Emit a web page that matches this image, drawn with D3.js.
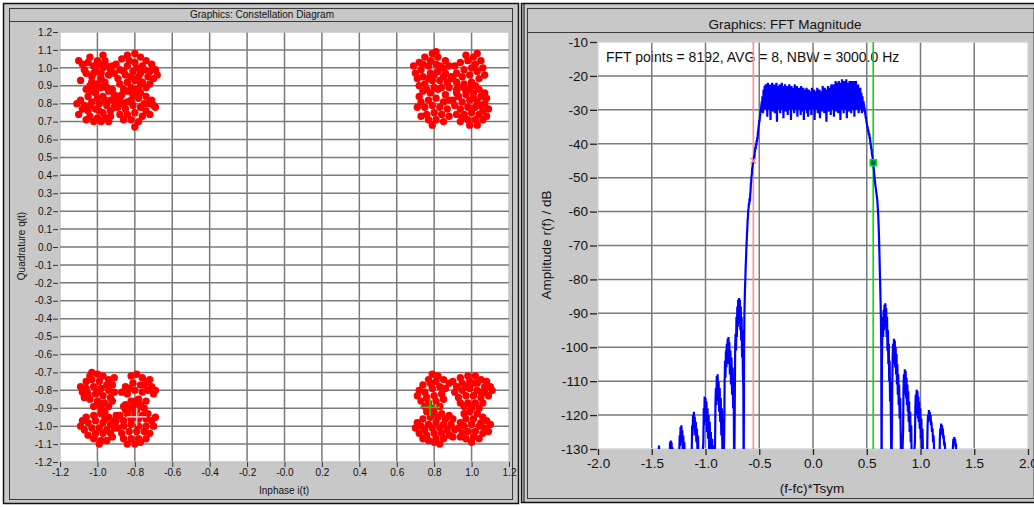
<!DOCTYPE html>
<html>
<head>
<meta charset="utf-8">
<script src="https://cdn.jsdelivr.net/npm/d3@7"></script>
<style>
  body { margin: 0; background: #fff; }
  svg { display: block; font-family: "Liberation Sans", Arial, sans-serif; }
</style>
</head>
<body>
<svg id="chart" width="1034" height="507"></svg>
<script>
// ---- constellation data (I, Q in hundredths) ----
const constXTicks = [-1.2, -1.0, -0.8, -0.6, -0.4, -0.2, 0, 0.2, 0.4, 0.6, 0.8, 1.0, 1.2];
const constXLabels = ["-1.2", "-1.0", "-0.8", "-0.6", "-0.4", "-0.2", "-0.0", "0.2", "0.4", "0.6", "0.8", "1.0", "1.2"];
const constYTicks = [1.2, 1.1, 1.0, 0.9, 0.8, 0.7, 0.6, 0.5, 0.4, 0.3, 0.2, 0.1, 0, -0.1, -0.2, -0.3, -0.4, -0.5, -0.6, -0.7, -0.8, -0.9, -1.0, -1.1, -1.2];
const constYLabels = ["1.2", "1.1", "1.0", "0.9", "0.8", "0.7", "0.6", "0.5", "0.4", "0.3", "0.2", "0.1", "0.0", "-0.1", "-0.2", "-0.3", "-0.4", "-0.5", "-0.6", "-0.7", "-0.8", "-0.9", "-1.0", "-1.1", "-1.2"];

const clusterTL = [
  [-108,102],[-104,106],[-100,104],[-97,107],[-95,101],[-101,99],[-106,97],[-103,95],[-98,97],[-94,96],[-96,92],[-100,91],[-104,90],[-109,93],[-107,99],[-99,102],[-102,101],[-96,104],[-93,99],[-98,94],[-102,97],[-105,103],[-110,104],[-95,89],[-101,87],[-97,100],[-103,92],
  [-90,102],[-87,105],[-84,107],[-80,108],[-77,106],[-74,104],[-71,102],[-69,99],[-72,98],[-76,101],[-80,103],[-84,101],[-88,99],[-91,97],[-89,94],[-85,96],[-81,98],[-77,97],[-73,95],[-70,94],[-72,91],[-76,92],[-80,93],[-84,92],[-88,91],[-86,88],[-82,89],[-78,88],[-74,89],[-79,100],[-83,104],[-75,99],[-86,98],[-82,95],[-78,95],[-92,101],[-68,96],[-81,85],[-77,91],
  [-106,88],[-102,90],[-98,89],[-94,87],[-91,85],[-93,82],[-97,84],[-101,86],[-105,84],[-109,82],[-111,80],[-107,79],[-103,81],[-99,80],[-95,79],[-91,78],[-90,81],[-93,76],[-97,75],[-101,77],[-105,76],[-108,77],[-104,73],[-100,72],[-96,72],[-93,73],[-98,70],[-102,70],[-106,71],[-110,74],[-96,82],[-100,83],[-104,79],[-92,88],[-88,83],[-103,87],[-99,76],[-94,70],
  [-87,85],[-84,87],[-80,88],[-77,86],[-74,84],[-71,82],[-70,79],[-73,80],[-78,83],[-82,82],[-86,80],[-89,78],[-85,77],[-81,79],[-77,78],[-74,76],[-72,74],[-76,73],[-80,75],[-84,74],[-88,74],[-82,71],[-78,70],[-88,82],[-79,86],[-75,80],[-84,81],[-86,71],[-80,67],[-69,78],[-90,84]
];
const clusterTR = [
  [72,103],[75,106],[79,108],[82,106],[86,104],[88,101],[85,100],[81,102],[77,101],[73,99],[70,97],[71,94],[74,95],[78,97],[82,98],[86,97],[89,95],[87,92],[83,93],[79,93],[75,91],[72,90],[76,88],[80,89],[84,89],[88,89],[78,104],[83,101],[74,102],[80,96],[85,95],[69,101],[77,94],[81,109],
  [91,101],[94,103],[98,104],[101,106],[103,108],[100,100],[96,99],[92,97],[95,95],[99,96],[103,98],[106,100],[107,96],[104,94],[100,92],[96,91],[92,92],[102,102],[97,107],[105,104],[93,89],[98,88],[102,90],[90,94],
  [74,87],[78,86],[82,88],[86,85],[88,82],[85,81],[81,83],[77,82],[73,81],[71,78],[75,78],[79,79],[83,78],[87,77],[84,74],[80,75],[76,74],[73,73],[77,71],[81,71],[85,70],[79,68],[88,73],[72,84],
  [92,88],[96,89],[100,90],[104,88],[107,86],[108,83],[105,84],[101,86],[97,85],[93,84],[90,82],[91,79],[95,81],[99,82],[103,81],[107,80],[109,77],[106,76],[102,78],[98,78],[94,77],[92,74],[96,74],[100,75],[104,74],[108,73],[106,71],[102,71],[98,71],[94,70],[99,68],[103,68],[97,87],[101,83],[95,72],[105,79],[92,86]
];
const clusterBL = [
  [-103,-70],[-100,-71],[-97,-72],[-94,-74],[-92,-77],[-95,-77],[-99,-75],[-103,-74],[-106,-75],[-109,-78],[-106,-79],[-102,-78],[-98,-79],[-94,-80],[-91,-81],[-93,-84],[-97,-83],[-101,-82],[-105,-82],[-108,-81],[-104,-85],[-100,-86],[-96,-87],[-92,-86],[-94,-89],[-98,-90],[-102,-89],[-96,-92],[-100,-81],[-104,-72],[-91,-73],[-107,-84],[-99,-87],
  [-82,-72],[-79,-71],[-76,-73],[-73,-75],[-71,-78],[-70,-82],[-73,-80],[-77,-77],[-81,-76],[-85,-78],[-87,-81],[-84,-82],[-80,-80],[-76,-81],[-78,-85],[-82,-86],[-85,-88],[-81,-89],[-77,-88],[-74,-86],[-79,-91],[-83,-79],[-69,-80],[-75,-77],[-72,-74],
  [-106,-95],[-102,-94],[-98,-93],[-94,-95],[-91,-97],[-93,-99],[-97,-98],[-101,-97],[-105,-98],[-109,-100],[-107,-102],[-103,-101],[-99,-101],[-95,-102],[-91,-101],[-93,-104],[-97,-104],[-101,-104],[-105,-105],[-102,-107],[-98,-108],[-95,-108],[-92,-106],[-99,-110],[-108,-97],[-90,-94],[-96,-96],
  [-86,-89],[-82,-90],[-78,-89],[-75,-90],[-73,-93],[-76,-94],[-80,-93],[-84,-93],[-88,-94],[-90,-97],[-86,-97],[-82,-96],[-78,-96],[-74,-96],[-71,-97],[-70,-100],[-74,-100],[-78,-100],[-82,-99],[-86,-100],[-89,-101],[-87,-104],[-83,-103],[-79,-103],[-75,-103],[-72,-104],[-74,-107],[-78,-107],[-82,-107],[-86,-107],[-84,-110],[-80,-110],[-77,-109],[-80,-86],[-91,-99],[-69,-95],[-85,-91]
];
const clusterBR = [
  [79,-71],[82,-72],[85,-74],[81,-75],[77,-74],[74,-77],[72,-80],[75,-81],[79,-79],[83,-78],[86,-79],[84,-82],[80,-83],[76,-84],[73,-86],[77,-87],[81,-86],[85,-85],[83,-89],[79,-90],[75,-89],[71,-83],[88,-76],[78,-76],
  [94,-73],[98,-72],[102,-72],[105,-74],[108,-75],[110,-78],[107,-78],[103,-76],[99,-75],[95,-76],[92,-78],[91,-81],[95,-80],[99,-79],[103,-80],[107,-81],[109,-83],[105,-84],[101,-83],[97,-83],[93,-84],[94,-87],[98,-87],[102,-87],[106,-87],[100,-90],[104,-90],[96,-89],[101,-76],[97,-78],[105,-81],[90,-75],[111,-80],
  [76,-92],[80,-92],[84,-93],[88,-94],[90,-96],[86,-96],[82,-95],[78,-95],[74,-96],[71,-98],[70,-101],[73,-100],[77,-99],[81,-98],[85,-99],[89,-99],[91,-102],[87,-102],[83,-101],[79,-101],[75,-102],[72,-104],[76,-105],[80,-104],[84,-104],[88,-105],[85,-107],[81,-107],[77,-108],[80,-109],[83,-110],[74,-107],[90,-106],[78,-93],
  [96,-93],[99,-92],[103,-93],[106,-95],[108,-97],[105,-98],[101,-96],[97,-96],[94,-98],[93,-101],[96,-100],[100,-99],[104,-100],[107,-101],[109,-103],[106,-104],[102,-103],[98,-103],[95,-104],[97,-107],[101,-106],[104,-107],[100,-109],[94,-106],[110,-99]
];
// cursor positions in the constellation plot
const constCursors = [
  { i: -0.79, q: -0.948, color: "#ffc8c8" },
  { i: 0.778, q: -0.894, color: "#00e000" }
];

// ---- FFT data: [normalised frequency, dB] ----
const fftXTicks = [-2.0, -1.5, -1.0, -0.5, 0, 0.5, 1.0, 1.5, 2.0];
const fftXLabels = ["-2.0", "-1.5", "-1.0", "-0.5", "0.0", "0.5", "1.0", "1.5", "2.0"];
const fftYTicks = [-10, -20, -30, -40, -50, -60, -70, -80, -90, -100, -110, -120, -130];

const fftLeftTail = [
  [-1.52,-140],
  [-1.445,-136],[-1.44,-130],[-1.437,-133],[-1.433,-129],[-1.43,-132],[-1.426,-130],[-1.42,-137],
  [-1.34,-140],
  [-1.333,-134],[-1.33,-128],[-1.327,-131],[-1.323,-127.5],[-1.32,-130],[-1.316,-128],[-1.312,-133],[-1.308,-129.5],[-1.30,-137],
  [-1.255,-140],
  [-1.245,-132],[-1.24,-126],[-1.236,-129],[-1.232,-123.5],[-1.228,-127],[-1.224,-123],[-1.22,-128],[-1.216,-124.5],[-1.212,-130],[-1.207,-126],[-1.202,-131],[-1.197,-128],[-1.19,-136],
  [-1.14,-140],
  [-1.128,-131],[-1.124,-123],[-1.12,-126],[-1.116,-120],[-1.112,-124],[-1.108,-119],[-1.104,-123],[-1.1,-120.5],[-1.095,-126],[-1.09,-122],[-1.085,-128],[-1.08,-124],[-1.075,-130],[-1.07,-126],[-1.063,-136],
  [-1.045,-140],
  [-1.02,-128],[-1.016,-118],[-1.012,-123],[-1.008,-114.5],[-1.004,-121],[-1.0,-115],[-0.996,-122],[-0.991,-116],[-0.986,-125],[-0.981,-118],[-0.976,-127],[-0.971,-120],[-0.966,-130],[-0.961,-122],[-0.955,-132],[-0.95,-125],[-0.944,-134],[-0.938,-127],[-0.932,-137],[-0.926,-129],[-0.92,-140],
  [-0.912,-131],[-0.907,-116],[-0.903,-112],[-0.899,-117],[-0.895,-108.5],[-0.891,-114],[-0.887,-108],[-0.883,-116],[-0.878,-110],[-0.873,-119],[-0.868,-112],[-0.863,-122],[-0.858,-115],[-0.853,-126],[-0.848,-118],[-0.843,-130],[-0.839,-121],[-0.834,-140],
  [-0.826,-125],[-0.822,-110],[-0.818,-104],[-0.814,-109],[-0.81,-101],[-0.806,-106],[-0.802,-99],[-0.798,-105],[-0.794,-97.5],[-0.79,-104],[-0.786,-97],[-0.782,-105],[-0.778,-98.5],[-0.773,-108],[-0.768,-101],[-0.763,-111],[-0.758,-103],[-0.753,-114],[-0.748,-106],[-0.743,-118],[-0.738,-110],[-0.733,-140],
  [-0.728,-118],[-0.724,-100],[-0.72,-96],[-0.716,-101],[-0.712,-91],[-0.708,-97],[-0.704,-88],[-0.7,-94],[-0.696,-86],[-0.692,-93],[-0.688,-85.5],[-0.684,-92],[-0.68,-86],[-0.676,-95],[-0.672,-88],[-0.668,-98],[-0.664,-91],[-0.66,-103],[-0.656,-95],[-0.652,-108],[-0.648,-112],[-0.645,-140]
];
const fftLeftEdge = [
  [-0.641,-100],[-0.638,-90],[-0.635,-86],[-0.632,-82],[-0.629,-79.5],[-0.626,-76],[-0.623,-74],[-0.62,-71],[-0.617,-69],[-0.614,-66.5],[-0.611,-65],[-0.608,-62.5],[-0.605,-61.5],[-0.602,-59.5],[-0.599,-59],[-0.596,-57.5],[-0.593,-58],[-0.59,-56],[-0.587,-57],[-0.584,-55],[-0.581,-54],[-0.578,-52],[-0.575,-51],[-0.572,-49.5],[-0.569,-49],[-0.566,-47.5],[-0.563,-47],[-0.56,-46],[-0.557,-45.5],[-0.554,-44.5],[-0.551,-45],[-0.548,-43.5],[-0.545,-44],[-0.542,-42.5],[-0.539,-42],[-0.536,-41],[-0.533,-41.5],[-0.53,-40],[-0.527,-40.5],[-0.524,-39],[-0.521,-39.5],[-0.518,-38],[-0.515,-38.5],[-0.512,-36.5],[-0.509,-36],[-0.506,-35],[-0.503,-34.5],[-0.5,-33],[-0.497,-33.5],[-0.494,-32],[-0.491,-31.5],[-0.488,-30],[-0.485,-30.5],[-0.482,-29],[-0.479,-28.5],[-0.476,-27.5],[-0.473,-28]
];
const fftPassband = [
  [-0.47,-26],[-0.465,-31],[-0.46,-24],[-0.455,-29.5],[-0.45,-23],[-0.445,-30],[-0.44,-22.5],[-0.435,-29],[-0.43,-23.5],[-0.425,-32],[-0.42,-22],[-0.415,-29.5],[-0.41,-23],[-0.405,-30],[-0.4,-22.5],[-0.395,-33],[-0.39,-24],[-0.385,-29],[-0.38,-22],[-0.375,-30.5],[-0.37,-23.5],[-0.365,-29.5],[-0.36,-22.5],[-0.355,-31],[-0.35,-24],[-0.345,-29],[-0.34,-22],[-0.335,-33.5],[-0.33,-23],[-0.325,-30],[-0.32,-24],[-0.315,-29.5],[-0.31,-22.5],[-0.305,-31],[-0.3,-23.5],[-0.295,-30],[-0.29,-22],[-0.285,-29],[-0.28,-24],[-0.275,-32.5],[-0.27,-23],[-0.265,-29.5],[-0.26,-22.5],[-0.255,-30.5],[-0.25,-24.5],[-0.245,-29],[-0.24,-23],[-0.235,-31.5],[-0.23,-23.5],[-0.225,-30],[-0.22,-22.5],[-0.215,-29.5],[-0.21,-24],[-0.205,-33],[-0.2,-23],[-0.195,-30],[-0.19,-24.5],[-0.185,-29],[-0.18,-23.5],[-0.175,-31],[-0.17,-22.5],[-0.165,-30],[-0.16,-24],[-0.155,-29.5],[-0.15,-23],[-0.145,-32],[-0.14,-24.5],[-0.135,-30],[-0.13,-23.5],[-0.125,-29],[-0.12,-24],[-0.115,-31.5],[-0.11,-23],[-0.105,-30.5],[-0.1,-24.5],[-0.095,-29.5],[-0.09,-23.5],[-0.085,-33],[-0.08,-25],[-0.075,-30],[-0.07,-24],[-0.065,-29.5],[-0.06,-23.5],[-0.055,-31],[-0.05,-25],[-0.045,-32],[-0.04,-24],[-0.035,-30],[-0.03,-25.5],[-0.025,-29.5],[-0.02,-24.5],[-0.015,-31.5],[-0.01,-23.5],[-0.005,-30],
  [0,-25],[0.005,-29.5],[0.01,-24],[0.015,-33],[0.02,-25.5],[0.025,-30],[0.03,-24.5],[0.035,-29.5],[0.04,-23.5],[0.045,-31],[0.05,-25],[0.055,-30],[0.06,-24],[0.065,-32.5],[0.07,-25.5],[0.075,-29.5],[0.08,-24.5],[0.085,-30.5],[0.09,-23],[0.095,-29],[0.1,-24.5],[0.105,-31],[0.11,-23.5],[0.115,-30],[0.12,-25],[0.125,-33.5],[0.13,-24],[0.135,-29.5],[0.14,-23],[0.145,-30.5],[0.15,-24.5],[0.155,-29],[0.16,-23.5],[0.165,-31.5],[0.17,-22.5],[0.175,-30],[0.18,-24],[0.185,-29.5],[0.19,-22.5],[0.195,-32],[0.2,-23],[0.205,-29],[0.21,-21.5],[0.215,-30.5],[0.22,-23],[0.225,-29.5],[0.23,-22],[0.235,-31],[0.24,-21.5],[0.245,-29],[0.25,-23],[0.255,-33],[0.26,-22],[0.265,-30],[0.27,-21],[0.275,-29],[0.28,-22.5],[0.285,-31],[0.29,-21.5],[0.295,-29.5],[0.3,-22],[0.305,-30],[0.31,-21],[0.315,-32.5],[0.32,-23],[0.325,-29],[0.33,-22],[0.335,-30.5],[0.34,-21.5],[0.345,-29.5],[0.35,-23],[0.355,-31],[0.36,-21.5],[0.365,-29],[0.37,-22.5],[0.375,-30],[0.38,-21.5],[0.385,-32],[0.39,-22.5],[0.395,-29.5],[0.4,-21.5],[0.405,-30],[0.41,-23],[0.415,-29],[0.42,-22.5],[0.425,-31],[0.43,-24],[0.435,-30],[0.44,-23.5],[0.445,-29.5],[0.45,-25],[0.455,-31],[0.46,-26],[0.465,-30.5],[0.47,-27.5]
];
const fftRightEdge = [
  [0.473,-28.5],[0.476,-29],[0.479,-30],[0.482,-29.5],[0.485,-31],[0.488,-31.5],[0.491,-32.5],[0.494,-32],[0.497,-33.5],[0.5,-34],[0.503,-34.5],[0.506,-35.5],[0.509,-35],[0.512,-36.5],[0.515,-36],[0.518,-37],[0.521,-37.5],[0.524,-37],[0.527,-38.5],[0.53,-38],[0.533,-39.5],[0.536,-40],[0.539,-40.5],[0.542,-41.5],[0.545,-41.5],[0.548,-43],[0.551,-43.5],[0.554,-44],[0.557,-45],[0.56,-45.5],[0.563,-46.5],[0.566,-47.5],[0.569,-49],[0.572,-49.5],[0.575,-51],[0.578,-51.5],[0.581,-52.5],[0.584,-53],[0.587,-54],[0.59,-54.5],[0.593,-55.5],[0.596,-56],[0.599,-57],[0.602,-58.5],[0.605,-60],[0.608,-62],[0.611,-64.5],[0.614,-67.5],[0.617,-71],[0.62,-75],[0.623,-79],[0.626,-83],[0.629,-87],[0.632,-92],[0.635,-100],[0.638,-140]
];
const fftRightTail = [
  [0.641,-105],[0.645,-95],[0.649,-91],[0.653,-97],[0.657,-89],[0.661,-95],[0.665,-87.5],[0.669,-93],[0.673,-87],[0.677,-94],[0.681,-88.5],[0.685,-97],[0.689,-91],[0.693,-101],[0.697,-95],[0.701,-105],[0.705,-99],[0.709,-110],[0.713,-104],[0.717,-116],[0.721,-110],[0.725,-122],[0.73,-140],
  [0.737,-112],[0.741,-103],[0.745,-99],[0.749,-105],[0.753,-97.5],[0.757,-104],[0.761,-98],[0.765,-106],[0.769,-100],[0.773,-108],[0.777,-102],[0.781,-111],[0.785,-105],[0.789,-114],[0.793,-108],[0.797,-117],[0.801,-111],[0.806,-121],[0.811,-115],[0.816,-126],[0.822,-140],
  [0.838,-125],[0.842,-112],[0.846,-108],[0.85,-114],[0.854,-106.5],[0.858,-113],[0.862,-107],[0.866,-115],[0.87,-109],[0.874,-117],[0.878,-111],[0.882,-119],[0.886,-113],[0.89,-122],[0.894,-116],[0.899,-125],[0.904,-119],[0.909,-128],[0.914,-123],[0.92,-140],
  [0.948,-128],[0.952,-118],[0.956,-114],[0.96,-120],[0.964,-112.5],[0.968,-119],[0.972,-113],[0.976,-121],[0.98,-114.5],[0.984,-122],[0.988,-116],[0.993,-124],[0.998,-118],[1.003,-127],[1.008,-121],[1.013,-130],[1.018,-124],[1.024,-133],[1.03,-140],
  [1.062,-132],[1.066,-123],[1.07,-120],[1.074,-122],[1.078,-118.5],[1.082,-120],[1.086,-119],[1.09,-121.5],[1.094,-120],[1.098,-123],[1.102,-122],[1.107,-125],[1.112,-124],[1.117,-128],[1.122,-126],[1.128,-132],[1.134,-140],
  [1.176,-134],[1.18,-127],[1.184,-124],[1.188,-126],[1.192,-122.5],[1.196,-124],[1.2,-123],[1.204,-125.5],[1.208,-124],[1.212,-127],[1.216,-126],[1.221,-129],[1.226,-128],[1.232,-133],[1.24,-140],
  [1.298,-135],[1.302,-129],[1.306,-127],[1.31,-128.5],[1.314,-126.5],[1.318,-128],[1.322,-127],[1.326,-129.5],[1.33,-128.5],[1.335,-133],[1.34,-140],
  [1.45,-140]
];
// cursor lines and their markers
const fftCursors = [
  { f: -0.555, db: -45, color: "#ff8c8c", kind: "x" },
  { f: 0.56, db: -45.6, color: "#00e000", kind: "sq" }
];
const fftInfo = "FFT points = 8192, AVG = 8, NBW = 3000.0 Hz";

const svg = d3.select("#chart");
const panelBg = "#c8c8c8";
const gridCol = "#7a7a7a";

// ---------- panel frames ----------
const drawFrame = (x0, x1, y0, y1, titleY, title, titleX, fontSize) => {
  svg.append("rect").attr("x", x0).attr("y", y0).attr("width", x1 - x0).attr("height", y1 - y0)
    .attr("fill", panelBg).attr("stroke", "#111").attr("stroke-width", 1.5);
  svg.append("rect").attr("x", x0 + 6).attr("y", y0 + 5).attr("width", x1 - x0 - 12).attr("height", y1 - y0 - 9)
    .attr("fill", "none").attr("stroke", "#3a3a3a").attr("stroke-width", 1);
  svg.append("line").attr("x1", x0 + 6).attr("x2", x1 - 6).attr("y1", titleY).attr("y2", titleY)
    .attr("stroke", "#3a3a3a");
  svg.append("text").attr("x", titleX).attr("y", titleY - 4).attr("text-anchor", "middle")
    .attr("font-size", fontSize).attr("fill", "#111").text(title);
};
drawFrame(3.5, 518.5, 3.5, 503.5, 21.5, "Graphics: Constellation Diagram", 262, 10);
drawFrame(521.5, 1040, 3.5, 502.5, 32.5, "Graphics: FFT Magnitude", 785, 13.5);
svg.append("line").attr("x1", 524).attr("x2", 524).attr("y1", 3).attr("y2", 503).attr("stroke", "#111");

// ---------- constellation ----------
const cx = d3.scaleLinear().domain([-1.2, 1.2]).range([60, 509]);
const cy = d3.scaleLinear().domain([-1.2, 1.2]).range([462, 32]);

const cg = svg.append("g");
cg.append("rect").attr("x", cx(-1.2)).attr("y", cy(1.2))
  .attr("width", cx(1.2) - cx(-1.2)).attr("height", cy(-1.2) - cy(1.2)).attr("fill", "#fff");

cg.selectAll(".vgrid").data(constXTicks).enter().append("line")
  .attr("x1", d => cx(d)).attr("x2", d => cx(d)).attr("y1", cy(1.2)).attr("y2", cy(-1.2))
  .attr("stroke", (d, i) => (i === 0 || i === constXTicks.length - 1) ? "#c4c4c4" : gridCol)
  .attr("stroke-width", 1.5);
cg.selectAll(".hgrid").data(constYTicks).enter().append("line")
  .attr("y1", d => cy(d)).attr("y2", d => cy(d)).attr("x1", cx(-1.2)).attr("x2", cx(1.2))
  .attr("stroke", (d, i) => (i === 0 || i === constYTicks.length - 1) ? "#c4c4c4" : gridCol)
  .attr("stroke-width", 1.5);

const cxAxis = d3.axisBottom(cx).tickValues(constXTicks).tickSize(5).tickPadding(2)
  .tickFormat((d, i) => constXLabels[i]);
const cyAxis = d3.axisLeft(cy).tickValues(constYTicks).tickSize(5).tickPadding(1)
  .tickFormat((d, i) => constYLabels[i]);
cg.append("g").attr("transform", `translate(0,${cy(-1.2)})`).call(cxAxis)
  .call(g => g.select(".domain").remove())
  .call(g => g.selectAll("text").attr("font-size", 10).attr("fill", "#111"))
  .call(g => g.selectAll("line").attr("stroke", "#333"));
cg.append("g").attr("transform", `translate(${cx(-1.2) - 2},0)`).call(cyAxis)
  .call(g => g.select(".domain").remove())
  .call(g => g.selectAll("text").attr("font-size", 10).attr("fill", "#111"))
  .call(g => g.selectAll("line").attr("stroke", "#333"));

cg.append("text").attr("x", 284).attr("y", 494).attr("text-anchor", "middle")
  .attr("font-size", 10).attr("fill", "#111").text("Inphase i(t)");
cg.append("text").attr("transform", "translate(25,246) rotate(-90)").attr("text-anchor", "middle")
  .attr("font-size", 10).attr("fill", "#111").text("Quadrature q(t)");

const allPoints = [].concat(clusterTL, clusterTR, clusterBL, clusterBR);
cg.selectAll(".pt").data(allPoints).enter().append("circle")
  .attr("cx", d => cx(d[0] / 100)).attr("cy", d => cy(d[1] / 100))
  .attr("r", 3.7).attr("fill", "#ff0000");

constCursors.forEach(c => {
  const px = cx(c.i), py = cy(c.q);
  cg.append("line").attr("x1", px - 10).attr("x2", px + 10).attr("y1", py).attr("y2", py)
    .attr("stroke", c.color).attr("stroke-width", 1.5);
  cg.append("line").attr("x1", px).attr("x2", px).attr("y1", py - 9).attr("y2", py + 9)
    .attr("stroke", c.color).attr("stroke-width", 1.5);
});

// ---------- FFT magnitude ----------
const fx = d3.scaleLinear().domain([-2, 2]).range([598, 1028]);
const fy = d3.scaleLinear().domain([-130, -10]).range([449, 42]);

const fg = svg.append("g");
fg.append("rect").attr("x", fx(-2)).attr("y", fy(-10))
  .attr("width", fx(2) - fx(-2)).attr("height", fy(-130) - fy(-10)).attr("fill", "#fff");

fg.append("text").attr("x", 606).attr("y", 62).attr("font-size", 14).attr("fill", "#111").text(fftInfo);

fg.selectAll(".vgrid").data(fftXTicks).enter().append("line")
  .attr("x1", d => fx(d)).attr("x2", d => fx(d)).attr("y1", fy(-10)).attr("y2", fy(-130))
  .attr("stroke", (d, i) => (i === 0 || i === fftXTicks.length - 1) ? "#d4d4d4" : gridCol)
  .attr("stroke-width", 1.5);
fg.selectAll(".hgrid").data(fftYTicks).enter().append("line")
  .attr("y1", d => fy(d)).attr("y2", d => fy(d)).attr("x1", fx(-2)).attr("x2", fx(2))
  .attr("stroke", (d, i) => (i === 0 || i === fftYTicks.length - 1) ? "#d4d4d4" : gridCol)
  .attr("stroke-width", 1.5);

const fxAxis = d3.axisBottom(fx).tickValues(fftXTicks).tickSize(6).tickPadding(3)
  .tickFormat((d, i) => fftXLabels[i]);
const fyAxis = d3.axisLeft(fy).tickValues(fftYTicks).tickSize(7).tickPadding(2)
  .tickFormat(d => String(d));
fg.append("g").attr("transform", `translate(0,${fy(-130)})`).call(fxAxis)
  .call(g => g.select(".domain").remove())
  .call(g => g.selectAll("text").attr("font-size", 13.5).attr("fill", "#111"))
  .call(g => g.selectAll("line").attr("stroke", "#222").attr("stroke-width", 1.3));
fg.append("g").attr("transform", `translate(${fx(-2) - 1},0)`).call(fyAxis)
  .call(g => g.select(".domain").remove())
  .call(g => g.selectAll("text").attr("font-size", 13.5).attr("fill", "#111"))
  .call(g => g.selectAll("line").attr("stroke", "#222").attr("stroke-width", 1.3));

fg.append("text").attr("x", 812).attr("y", 493).attr("text-anchor", "middle")
  .attr("font-size", 13.5).attr("fill", "#111").text("(f-fc)*Tsym");
fg.append("text").attr("transform", "translate(551,245) rotate(-90)").attr("text-anchor", "middle")
  .attr("font-size", 13.5).attr("fill", "#111").text("Amplitude r(f) / dB");

svg.append("clipPath").attr("id", "fftClip").append("rect")
  .attr("x", fx(-2)).attr("y", fy(-10)).attr("width", fx(2) - fx(-2)).attr("height", fy(-130) - fy(-10));

fftCursors.forEach(c => {
  fg.append("line").attr("x1", fx(c.f)).attr("x2", fx(c.f)).attr("y1", fy(-10)).attr("y2", fy(-130))
    .attr("stroke", c.color).attr("stroke-width", 1.6);
});

const trace = [].concat(fftLeftTail, fftLeftEdge, fftPassband, fftRightEdge, fftRightTail);
const line = d3.line().x(d => fx(d[0])).y(d => fy(d[1]));
fg.append("path").datum(trace).attr("clip-path", "url(#fftClip)")
  .attr("d", line).attr("fill", "none").attr("stroke", "#0000ff").attr("stroke-width", 2.2)
  .attr("stroke-linejoin", "bevel");

fftCursors.forEach(c => {
  const px = fx(c.f), py = fy(c.db);
  if (c.kind === "x") {
    fg.append("path").attr("d", `M${px - 3},${py - 3}L${px + 3},${py + 3}M${px - 3},${py + 3}L${px + 3},${py - 3}`)
      .attr("stroke", c.color).attr("stroke-width", 1.5);
  } else {
    fg.append("rect").attr("x", px - 3).attr("y", py - 3).attr("width", 6).attr("height", 6)
      .attr("fill", "#006060").attr("stroke", c.color).attr("stroke-width", 1.5);
  }
});
</script>
</body>
</html>
